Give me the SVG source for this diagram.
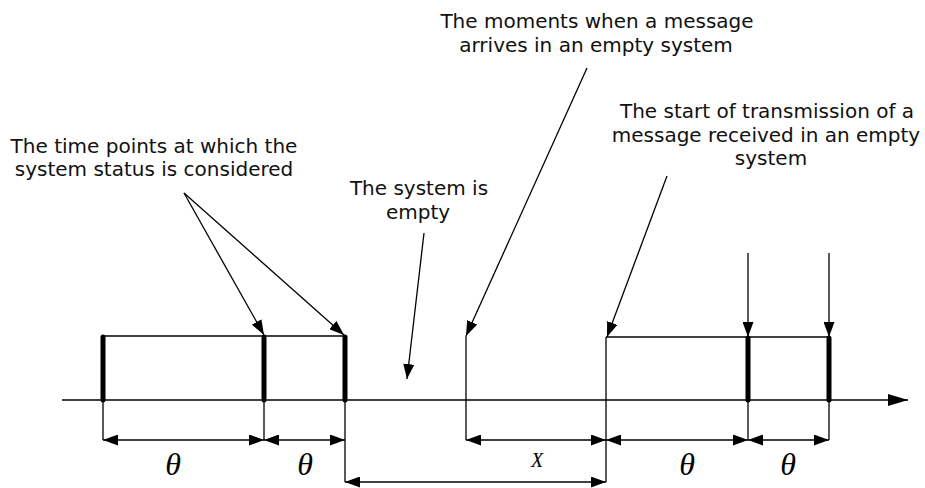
<svg xmlns="http://www.w3.org/2000/svg" width="925" height="488" viewBox="0 0 925 488">
<style>
.ln{stroke:#000;stroke-width:1.3;fill:none}
.bar{stroke:#000;stroke-width:5;stroke-linecap:round;fill:none}
.lbl{font-family:"DejaVu Sans",sans-serif;font-size:20px;fill:#111;text-anchor:middle}
.sym{font-family:"Liberation Serif","Times New Roman",serif;font-style:italic;font-size:32px;fill:#000;text-anchor:middle}
.dim{stroke:#000;stroke-width:1.3;fill:none;marker-start:url(#ah);marker-end:url(#ah)}
.ptr{stroke:#000;stroke-width:1.3;fill:none;marker-end:url(#ah)}
</style>
<defs>
<marker id="ah" markerUnits="userSpaceOnUse" markerWidth="15" markerHeight="11" refX="15" refY="5.5" orient="auto-start-reverse" viewBox="0 0 15 11">
<path d="M0,0 L15,5.5 L0,11 z" fill="#000"/>
</marker>
<marker id="axh" markerUnits="userSpaceOnUse" markerWidth="20" markerHeight="12" refX="20" refY="6" orient="auto" viewBox="0 0 20 12">
<path d="M0,0 L20,6 L0,12 z" fill="#000"/>
</marker>
</defs>
<g id="axis">
<line class="ln" x1="62" y1="400" x2="908" y2="400" marker-end="url(#axh)"/>
</g>
<g id="bars">
<line class="bar" x1="103" y1="337" x2="103" y2="400"/>
<line class="bar" x1="264" y1="337" x2="264" y2="400"/>
<line class="bar" x1="345" y1="337" x2="345" y2="400"/>
<line class="bar" x1="748" y1="338" x2="748" y2="400"/>
<line class="bar" x1="829" y1="338" x2="829" y2="400"/>
</g>
<g id="connectors">
<line class="ln" x1="103" y1="336" x2="345" y2="336"/>
<line class="ln" x1="606" y1="337" x2="829" y2="337"/>
<line class="ln" x1="466" y1="336" x2="466" y2="440"/>
<line class="ln" x1="606" y1="337" x2="606" y2="482"/>
<line class="ln" x1="103" y1="400" x2="103" y2="440"/>
<line class="ln" x1="264" y1="400" x2="264" y2="440"/>
<line class="ln" x1="345" y1="400" x2="345" y2="482"/>
<line class="ln" x1="748" y1="400" x2="748" y2="440"/>
<line class="ln" x1="829" y1="400" x2="829" y2="440"/>
<line class="dim" x1="103" y1="440" x2="264" y2="440"/>
<line class="dim" x1="264" y1="440" x2="345" y2="440"/>
<line class="dim" x1="466" y1="440" x2="606" y2="440"/>
<line class="dim" x1="606" y1="440" x2="748" y2="440"/>
<line class="dim" x1="748" y1="440" x2="829" y2="440"/>
<line class="dim" x1="345" y1="482" x2="606" y2="482"/>
<line class="ptr" x1="184" y1="193" x2="264" y2="335"/>
<line class="ptr" x1="184" y1="193" x2="344" y2="335"/>
<line class="ptr" x1="424" y1="233" x2="407" y2="379"/>
<line class="ptr" x1="587" y1="68" x2="466" y2="336"/>
<line class="ptr" x1="667" y1="176" x2="607" y2="337"/>
<line class="ptr" x1="748" y1="253" x2="748" y2="337"/>
<line class="ptr" x1="829" y1="253" x2="829" y2="337"/>
</g>
<g id="label-time-points">
<text class="lbl" x="154" y="153">The time points at which the</text>
<text class="lbl" x="154" y="176">system status is considered</text>
</g>
<g id="label-empty">
<text class="lbl" x="419" y="195">The system is</text>
<text class="lbl" x="418" y="219">empty</text>
</g>
<g id="label-moments">
<text class="lbl" x="597" y="28">The moments when a message</text>
<text class="lbl" x="596" y="52">arrives in an empty system</text>
</g>
<g id="label-start">
<text class="lbl" x="767" y="118">The start of transmission of a</text>
<text class="lbl" x="766" y="142">message received in an empty</text>
<text class="lbl" x="771" y="165">system</text>
</g>
<g id="dim-labels">
<text class="sym" x="173" y="475">θ</text>
<text class="sym" x="305" y="475">θ</text>
<text class="sym" x="537" y="467" style="font-size:20px">X</text>
<text class="sym" x="687" y="475">θ</text>
<text class="sym" x="788" y="475">θ</text>
</g>
</svg>
